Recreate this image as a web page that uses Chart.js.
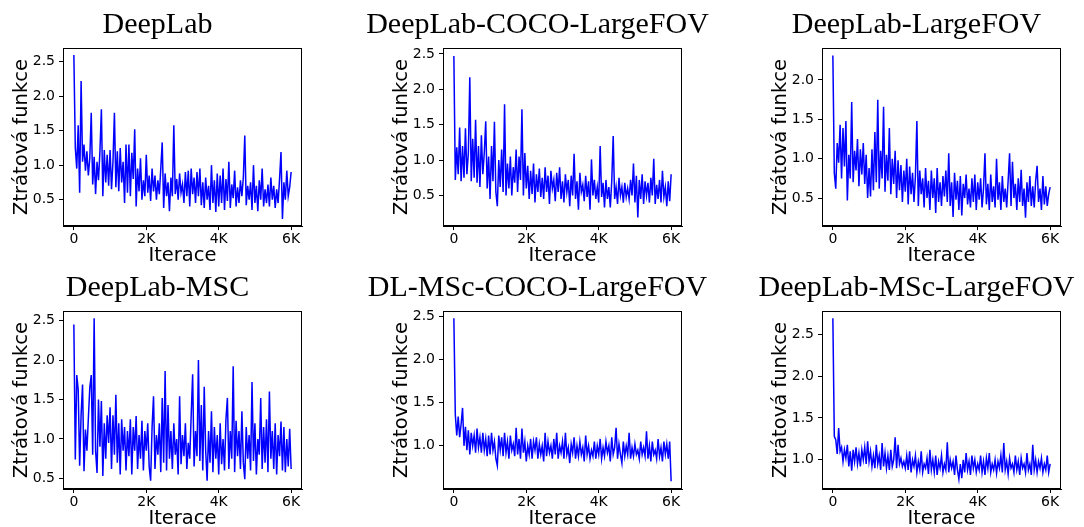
<!DOCTYPE html>
<html>
<head>
<meta charset="utf-8">
<script src="https://cdn.jsdelivr.net/npm/chart.js@4.4.1/dist/chart.umd.min.js"></script>
<style>
  html, body { margin: 0; background: #fff; }
  body { position: relative; width: 1084px; height: 527px; overflow: hidden; }
  canvas { position: absolute; }
</style>
</head>
<body>
<canvas id="c0"></canvas>
<canvas id="c1"></canvas>
<canvas id="c2"></canvas>
<canvas id="c3"></canvas>
<canvas id="c4"></canvas>
<canvas id="c5"></canvas>
<script>
const STEP = 40;
const X_TICKS = [0, 2000, 4000, 6000];
const X_TICK_LABELS = ['0', '2K', '4K', '6K'];
const X_LABEL = 'Iterace';
const Y_LABEL = 'Ztrátová funkce';

const TITLES = ['DeepLab', 'DeepLab-COCO-LargeFOV', 'DeepLab-LargeFOV',
                'DeepLab-MSC', 'DL-MSc-COCO-LargeFOV', 'DeepLab-MSc-LargeFOV'];

const Y_TICKS = [
  [0.5, 1.0, 1.5, 2.0, 2.5],
  [0.5, 1.0, 1.5, 2.0, 2.5],
  [0.5, 1.0, 1.5, 2.0],
  [0.5, 1.0, 1.5, 2.0, 2.5],
  [1.0, 1.5, 2.0, 2.5],
  [1.0, 1.5, 2.0, 2.5]
];
const Y_MIN = [0.117, 0.069, 0.145, 0.366, 0.499, 0.651];
const Y_MAX = [2.70, 2.584, 2.406, 2.621, 2.565, 2.777];

const deepLab = [
  2.60,1.25,0.95,1.58,0.60,2.22,1.05,1.30,0.92,1.20,
  0.85,1.10,1.76,0.72,1.12,0.58,1.05,0.78,1.20,1.81,
  0.55,1.22,0.75,1.15,0.70,1.22,0.65,1.05,1.76,0.68,
  1.20,0.62,1.25,0.75,1.05,0.45,1.30,0.60,1.30,0.55,
  1.18,0.80,1.52,0.40,0.95,0.62,1.10,0.50,0.78,0.55,
  1.15,0.60,0.85,0.48,0.95,0.62,0.85,0.50,0.78,0.58,
  0.95,1.33,0.38,0.88,0.55,0.75,0.33,0.82,0.55,1.58,
  0.58,0.80,0.50,0.88,0.60,0.72,0.45,0.90,0.55,0.92,
  0.40,0.95,0.58,0.82,0.45,0.90,0.55,0.95,0.42,0.75,
  0.38,0.82,0.50,0.70,0.35,1.00,0.45,0.78,0.32,0.88,
  0.40,0.85,0.45,0.95,0.35,0.80,0.48,1.05,0.38,0.72,
  0.52,0.92,0.40,0.68,0.45,0.78,0.55,0.82,1.43,0.42,
  0.70,0.50,0.75,0.35,1.00,0.45,0.70,0.33,0.78,0.50,
  0.95,0.40,0.65,0.45,0.72,0.40,0.82,0.50,0.70,0.38,
  0.65,0.45,0.80,1.19,0.22,0.75,0.50,0.92,0.55,0.68,
  0.90
];

const cocoLargeFov = [
  2.47,0.72,1.18,0.80,1.46,0.70,1.20,0.75,1.45,0.80,
  1.10,2.17,0.70,1.30,0.75,1.57,0.68,1.20,0.62,1.35,
  0.80,1.10,1.55,0.60,1.05,0.45,1.20,0.70,1.54,0.55,
  0.35,1.00,0.62,1.15,0.55,1.79,0.50,0.95,0.60,1.05,
  0.50,0.90,0.68,1.15,0.55,1.05,0.72,1.72,0.50,1.10,
  0.60,0.92,0.45,0.85,0.52,0.95,0.40,0.80,0.55,0.88,
  0.48,0.75,0.45,0.90,0.55,0.78,0.38,0.85,0.60,0.72,
  0.42,0.82,0.55,0.90,0.45,0.70,0.40,0.80,0.55,0.72,
  0.35,0.78,0.50,1.09,0.45,0.70,0.30,0.82,0.55,0.65,
  0.42,0.78,0.48,0.70,0.30,1.01,0.50,0.72,0.45,0.62,
  0.40,1.20,0.48,0.68,0.33,0.72,0.45,0.62,0.33,0.70,
  1.34,0.45,0.62,0.38,0.75,0.50,0.62,0.40,0.68,0.48,
  0.60,0.45,0.72,0.50,0.95,0.40,0.78,0.19,0.72,0.45,
  0.80,0.38,0.70,0.50,0.68,0.40,0.75,0.50,1.02,0.38,
  0.65,0.45,0.72,0.40,0.85,0.48,0.62,0.35,0.70,0.42,
  0.80
];

const largeFov = [
  2.31,0.82,0.62,1.20,0.95,1.43,0.75,1.39,0.90,1.48,
  0.47,1.05,0.75,1.72,0.70,1.10,0.85,1.25,0.65,1.12,
  0.80,1.20,0.68,1.05,0.50,0.88,0.52,1.12,0.60,1.34,
  0.70,1.75,0.62,1.10,0.75,1.66,0.58,1.05,0.72,1.39,
  0.55,1.00,0.68,1.10,0.50,0.98,0.60,0.92,0.45,0.85,
  0.58,1.00,0.42,0.90,0.55,0.82,0.45,0.78,1.48,0.40,
  0.85,0.55,0.75,0.38,0.88,0.50,0.72,0.35,0.85,0.50,
  0.75,0.31,0.88,0.45,0.70,0.40,0.78,0.52,0.85,0.45,
  1.07,0.40,0.70,0.26,0.82,0.48,0.72,0.35,0.78,0.28,
  0.68,0.50,0.80,0.42,0.62,0.38,0.75,0.45,0.80,0.35,
  0.70,0.48,0.75,0.38,0.62,1.07,0.42,0.68,0.35,0.80,
  0.45,0.65,0.38,1.00,0.48,0.70,0.35,0.78,0.45,0.62,
  0.38,0.72,1.07,0.40,0.96,0.50,0.68,0.35,0.75,0.45,
  0.86,0.40,0.62,0.25,0.70,0.45,0.78,0.40,0.65,0.38,
  0.72,0.91,0.45,0.62,0.35,0.78,0.42,0.65,0.40,0.55,
  0.64
];

const msc = [
  2.45,0.74,1.81,1.62,0.66,1.31,1.69,0.59,1.12,0.85,
  1.26,1.65,1.81,0.80,2.53,0.85,0.57,1.50,0.90,1.48,
  0.53,1.20,0.75,1.30,0.95,1.40,0.62,1.30,0.80,1.56,
  0.70,1.20,0.55,1.25,0.85,1.15,0.60,1.10,0.78,1.25,
  0.55,1.15,0.85,1.29,0.62,1.05,0.75,1.23,0.60,1.10,
  0.85,1.20,0.65,0.47,1.15,1.54,0.62,1.05,0.80,1.20,
  0.58,1.52,0.70,1.86,0.60,1.43,0.75,1.10,0.62,1.20,
  0.80,1.00,0.55,1.54,0.68,1.05,0.78,1.20,0.62,0.95,
  0.75,1.30,1.82,0.65,1.10,0.78,2.00,0.72,1.43,0.60,
  1.66,0.85,0.47,1.10,0.70,1.35,0.58,1.15,0.75,1.05,
  0.55,1.20,0.68,1.00,0.60,1.25,1.52,0.62,1.10,0.75,
  1.92,0.58,1.23,0.78,1.10,0.62,1.35,0.70,0.49,1.15,
  0.75,1.05,0.60,1.72,0.72,1.20,0.55,1.00,0.80,1.52,
  0.62,1.15,0.70,1.25,0.58,1.60,0.75,1.10,0.62,1.20,
  0.55,1.05,0.78,1.22,0.60,1.15,0.58,1.00,0.65,1.13,
  0.62
];

const mscCocoLargeFov = [
  2.48,1.36,1.12,1.34,1.10,1.25,1.44,1.00,1.22,0.95,
  1.18,0.90,1.15,1.00,1.12,0.92,1.20,0.98,1.10,0.92,
  1.15,0.95,1.08,0.88,1.12,0.90,1.15,0.95,1.05,0.85,
  0.77,1.12,0.95,1.10,0.88,1.15,0.92,1.05,0.85,1.12,
  0.95,1.02,0.88,1.21,0.90,1.08,0.85,1.20,0.92,1.05,
  0.82,1.00,0.90,1.08,0.85,1.05,0.95,1.10,0.85,1.02,
  0.90,1.00,0.82,1.15,0.88,1.05,0.92,1.00,0.85,1.08,
  0.90,1.15,0.85,1.00,0.92,1.05,0.85,1.15,0.90,0.98,
  0.80,1.02,0.92,1.10,0.85,1.00,0.88,1.05,0.90,0.98,
  0.82,1.12,0.90,1.00,0.85,0.95,0.88,1.05,0.85,1.00,
  0.90,1.08,0.85,0.98,0.88,1.05,0.92,1.00,0.82,1.10,
  0.90,0.98,1.21,0.85,1.02,0.90,0.80,1.05,0.88,1.00,
  0.90,1.15,0.85,0.98,0.88,1.02,0.90,0.95,0.85,1.05,
  0.90,0.98,0.88,1.17,0.85,1.00,0.82,1.05,0.90,0.95,
  0.85,1.08,0.88,0.98,0.82,1.05,0.90,1.02,0.85,1.05,
  0.59
];

const mscLargeFov = [
  2.69,1.28,1.24,1.07,1.38,1.10,1.15,0.98,1.12,1.02,
  1.18,0.92,1.10,0.87,1.12,0.98,1.15,0.95,1.08,0.92,
  1.12,1.00,1.15,0.95,1.22,0.98,1.10,0.92,1.05,0.90,
  1.18,0.95,1.05,0.88,1.20,0.92,1.08,0.90,1.05,0.88,
  1.12,0.92,1.00,1.27,0.90,1.18,0.95,1.02,0.92,0.98,
  0.90,1.05,0.88,1.10,0.85,1.00,0.92,1.05,0.85,0.98,
  0.88,1.10,0.85,0.95,0.90,1.02,0.83,1.12,0.88,1.00,
  0.85,1.05,0.82,0.98,0.90,1.05,0.85,0.95,0.88,1.21,
  0.85,1.00,0.90,0.98,0.82,1.05,0.88,0.77,0.95,0.78,
  1.00,0.85,1.08,0.88,0.98,0.82,1.05,0.90,1.00,0.85,
  0.95,0.88,1.05,0.85,0.98,0.82,1.02,0.90,1.08,0.85,
  0.95,0.88,1.00,0.84,0.98,0.90,1.05,0.85,1.20,0.88,
  0.98,0.83,1.02,0.90,0.95,0.85,1.05,0.88,0.98,0.82,
  1.02,0.90,0.95,0.85,1.08,0.88,0.95,0.82,1.18,0.88,
  1.00,0.85,0.98,0.90,1.02,0.85,0.95,0.88,1.05,0.85,
  0.95
];

const SERIES = [deepLab, cocoLargeFov, largeFov, msc, mscCocoLargeFov, mscLargeFov];

// layout of the 3x2 grid (plot box corners)
const COL_LEFT = [63, 443, 822];
const ROW_TOP = [48, 311];
const PLOT_W = 239, PLOT_H = 178;
const AX_W = 63, AX_H = 45, PAD_TOP = 48;
const SIDE = 45; // extra room so the wide titles are not clipped

const TICK_FONT = { family: 'DejaVu Sans', size: 14 };
const LABEL_FONT = { family: 'DejaVu Sans', size: 19.5 };

// full box frame (matplotlib draws all four spines) + serif title
const framePlugin = {
  id: 'frame',
  afterDraw(chart, args, opts) {
    const { ctx, chartArea: a } = chart;
    ctx.save();
    ctx.strokeStyle = '#000';
    ctx.lineWidth = 1;
    ctx.strokeRect(a.left + 0.5, a.top + 0.5, a.right - a.left - 1, a.bottom - a.top - 1);
    ctx.fillStyle = '#000';
    ctx.font = '30px "Liberation Serif"';
    ctx.textAlign = 'center';
    ctx.textBaseline = 'alphabetic';
    ctx.fillText(opts.text, (a.left + a.right) / 2 - 25, a.top - 15);
    ctx.restore();
  }
};

SERIES.forEach((values, k) => {
  const col = k % 3, row = Math.floor(k / 3);
  const canvas = document.getElementById('c' + k);
  canvas.width = SIDE + AX_W + PLOT_W + SIDE;
  canvas.height = PAD_TOP + PLOT_H + AX_H;
  canvas.style.left = (COL_LEFT[col] - AX_W - SIDE) + 'px';
  canvas.style.top = (ROW_TOP[row] - PAD_TOP) + 'px';

  new Chart(canvas, {
    type: 'line',
    data: {
      datasets: [{
        data: values.map((v, i) => ({ x: i * STEP, y: v })),
        borderColor: '#0000ff',
        borderWidth: 1.5,
        pointRadius: 0,
        tension: 0,
        fill: false
      }]
    },
    options: {
      responsive: false,
      animation: false,
      devicePixelRatio: 1,
      layout: { padding: { left: SIDE, top: PAD_TOP, right: SIDE, bottom: 0 } },
      plugins: {
        legend: { display: false },
        tooltip: { enabled: false },
        frame: { text: TITLES[k] }
      },
      scales: {
        x: {
          type: 'linear',
          min: -300,
          max: 6300,
          afterFit(s) { s.height = AX_H; },
          afterBuildTicks(s) { s.ticks = X_TICKS.map(v => ({ value: v })); },
          grid: { drawOnChartArea: false, drawTicks: true, tickLength: 4, color: '#000' },
          border: { display: true, color: '#000', width: 1 },
          ticks: {
            color: '#000', font: TICK_FONT, padding: 1, maxRotation: 0,
            callback: v => X_TICK_LABELS[X_TICKS.indexOf(v)]
          },
          title: { display: true, text: X_LABEL, color: '#000', font: LABEL_FONT, padding: { top: 0, bottom: 3 } }
        },
        y: {
          min: Y_MIN[k],
          max: Y_MAX[k],
          afterFit(s) { s.width = AX_W; },
          afterBuildTicks(s) { s.ticks = Y_TICKS[k].map(v => ({ value: v })); },
          grid: { drawOnChartArea: false, drawTicks: true, tickLength: 4, color: '#000' },
          border: { display: true, color: '#000', width: 1 },
          ticks: { color: '#000', font: TICK_FONT, padding: 4, callback: v => v.toFixed(1) },
          title: { display: true, text: Y_LABEL, color: '#000', font: LABEL_FONT, padding: { top: 10, bottom: 0 } }
        }
      }
    },
    plugins: [framePlugin]
  });
});
</script>
</body>
</html>
